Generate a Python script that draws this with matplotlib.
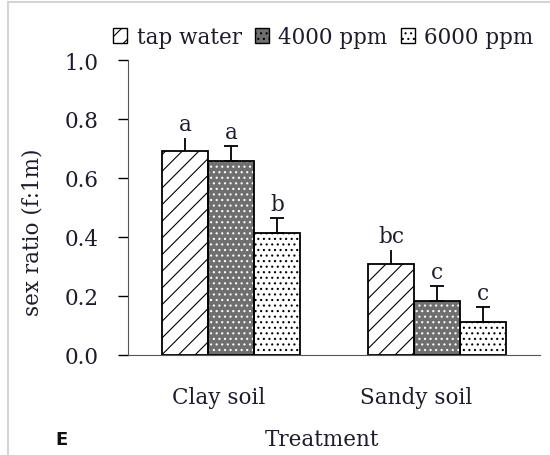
import matplotlib.pyplot as plt
from matplotlib.patches import Patch, Rectangle

groups = ['Clay soil', 'Sandy soil']
series = ['tap water', '4000 ppm', '6000 ppm']
means = [
    [0.69, 0.31],    # tap water
    [0.656, 0.184],  # 4000 ppm
    [0.415, 0.112],  # 6000 ppm
]
errors = [
    [0.045, 0.047],
    [0.054, 0.051],
    [0.051, 0.051],
]
letters = [
    ['a', 'bc'],
    ['a', 'c'],
    ['b', 'c'],
]

plt.rcParams['font.family'] = ['DejaVu Serif']
plt.rcParams['hatch.linewidth'] = 0.8

txt = '#1c1c2a'
fs = 15.5


def main():
    fig = plt.figure(figsize=(5.5, 4.56), dpi=100)
    ax = fig.add_axes([128 / 550, 1 - 356 / 456, 412 / 550, 295 / 456])

    centers = [0.5, 1.5]
    width = 0.223
    faces = ['white', '#6f6f6f', 'white']
    hatches = ['//', '...', '...']
    hatch_cols = ['black', 'white', 'black']
    caps = [0, 4.7, 4.7]

    for i, name in enumerate(series):
        xs = [c + (i - 1) * width for c in centers]
        # fill + hatch
        ax.bar(xs, means[i], width, color=faces[i], hatch=hatches[i],
               edgecolor=hatch_cols[i], linewidth=0, zorder=2)
        # outline
        ax.bar(xs, means[i], width, fill=False, edgecolor='black',
               linewidth=1.3, zorder=3)
        ax.errorbar(xs, means[i], yerr=[[0, 0], errors[i]], fmt='none',
                    ecolor='black', elinewidth=1.3, capsize=caps[i],
                    capthick=1.3, zorder=4)
        for x, m, e, lab in zip(xs, means[i], errors[i], letters[i]):
            ax.annotate(lab, (x, m + e), xytext=(0, 2), textcoords='offset points',
                        ha='center', va='bottom', fontsize=fs, color=txt)

    ax.set_xlim(0, 2)
    ax.set_ylim(0, 1.0)
    ax.set_yticks([0, 0.2, 0.4, 0.6, 0.8, 1.0])
    ax.set_yticklabels(['{:.1f}'.format(v) for v in ax.get_yticks()])
    ax.set_xticks([0.44, 1.4])
    ax.set_xticklabels(groups)
    ax.tick_params(axis='x', length=0, pad=22, labelsize=fs, labelcolor=txt)
    ax.tick_params(axis='y', direction='out', length=7, width=1, pad=14,
                   labelsize=fs, labelcolor=txt)

    for s in ['top', 'right']:
        ax.spines[s].set_visible(False)
    ax.spines['left'].set_color('#555555')
    ax.spines['bottom'].set_color('#555555')

    ax.set_ylabel('sex ratio (f:1m)', fontsize=fs, color=txt)
    ax.yaxis.set_label_coords(-0.205, 0.42)
    fig.text(322 / 550, 1 - 440 / 456, 'Treatment', ha='center', va='center',
             fontsize=fs, color=txt)
    fig.text(55 / 550, 1 - 440 / 456, 'E', ha='left', va='center',
             fontsize=13, fontweight='bold', family='DejaVu Sans', color='#111111')

    handles = [Patch(facecolor=faces[i], edgecolor='black', hatch=hatches[i],
                     linewidth=1) for i in range(3)]
    fig.legend(handles, series, loc='center', bbox_to_anchor=(0.588, 1 - 38 / 456),
               ncol=3, frameon=False, fontsize=fs, handlelength=0.65,
               handleheight=0.65, handletextpad=0.45, columnspacing=0.6,
               labelcolor=txt, borderpad=0)

    # light gray frame around the panel
    fig.add_artist(Rectangle((8 / 550, -0.1), 1.2, 1.1 - 3 / 456,
                             transform=fig.transFigure, fill=False,
                             edgecolor='#d4d4d4', linewidth=1.5))

    fig.savefig('out.png', dpi=100)


if __name__ == '__main__':
    main()
